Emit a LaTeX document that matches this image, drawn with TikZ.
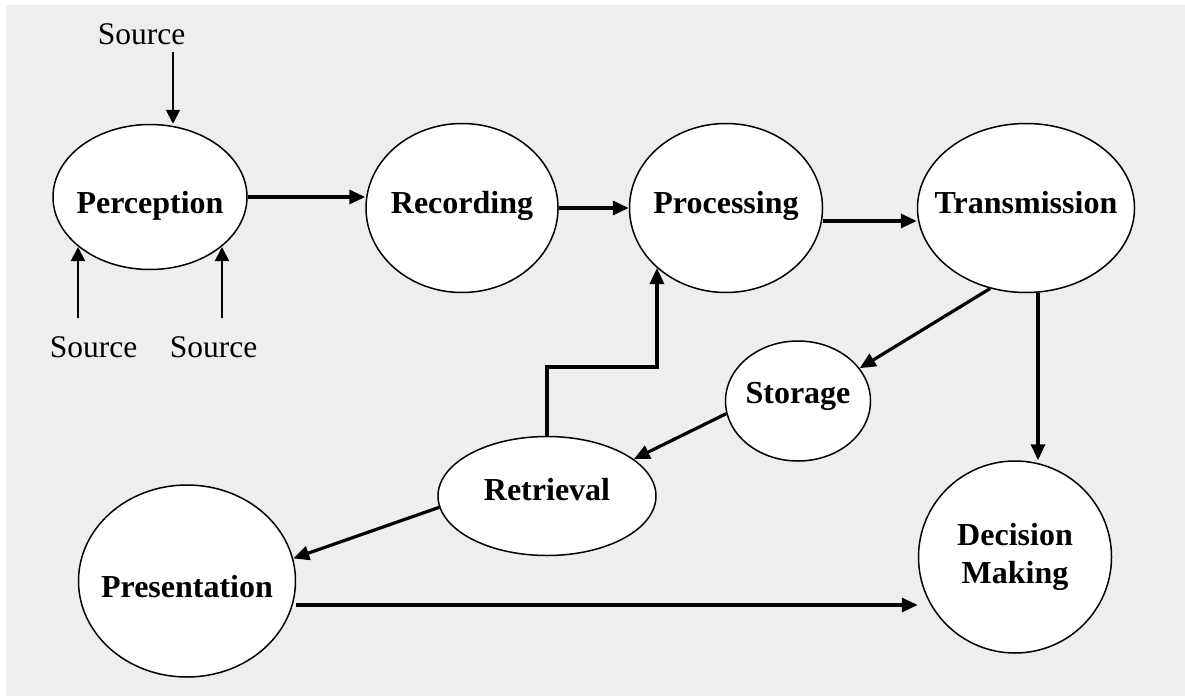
\documentclass[tikz,border=0pt]{standalone}
\usepackage{fontspec}
\setmainfont{Liberation Serif}
\usetikzlibrary{shapes.geometric,arrows.meta}
\newcommand{\mkz}[1]{\makebox[0pt]{#1}}
\definecolor{bggray}{HTML}{EEEEEE}
\begin{document}
\begin{tikzpicture}[x=1pt,y=-1pt,
  ell/.style={ellipse, draw, line width=1.5pt, fill=white, inner sep=0pt,
    font=\bfseries\fontsize{32}{38}\selectfont},
  srclabel/.style={font=\fontsize{31.5}{36}\selectfont, anchor=base, inner sep=0pt},
  thickarr/.style={line width=3.2pt, -{Triangle[length=16pt,width=14pt]}},
  thinarr/.style={line width=2pt, -{Triangle[length=14pt,width=14pt]}}
]
\fill[white] (0,0) rectangle (1185,696);
\fill[bggray] (6,5) rectangle (1185,696);
\useasboundingbox (0,0) rectangle (1185,696);

% nodes
\node[ell, minimum width=194pt, minimum height=145pt, text height=32pt, text depth=0pt] (perc) at (150,197) {\mkz{Perception}};
\node[ell, minimum width=192pt, minimum height=169pt, text height=10pt, text depth=0pt] (rec) at (462,208) {\mkz{Recording}};
\node[ell, minimum width=193pt, minimum height=169pt, text height=10pt, text depth=0pt] (proc) at (726,208) {\mkz{Processing}};
\node[ell, minimum width=217pt, minimum height=169pt, text height=10pt, text depth=0pt] (trans) at (1026,208) {\mkz{Transmission}};
\node[ell, minimum width=145pt, minimum height=120pt, text height=4pt, text depth=0pt] (stor) at (798,401) {\mkz{Storage}};
\node[ell, minimum width=218pt, minimum height=119pt, text height=8pt, text depth=0pt] (retr) at (547,496) {\mkz{Retrieval}};
\node[ell, minimum width=217pt, minimum height=192pt, text height=32pt, text depth=0pt] (pres) at (187,581) {\mkz{Presentation}};
\node[ell, minimum width=193pt, minimum height=192pt, align=center] (dec) at (1015,557) {Decision\\Making};

% source labels
\node[srclabel] (src1) at (141.5,44) {Source};
\node[srclabel] (src2) at (93.5,357) {Source};
\node[srclabel] (src3) at (213.5,357) {Source};
\coordinate (s1) at (173,52);
\coordinate (s2) at (78,318);
\coordinate (s3) at (222,318);

% source arrows
\draw[thinarr] (s1) -- (s1 |- perc.north);
\draw[thinarr] (s2) -- (s2 |- perc.215);
\draw[thinarr] (s3) -- (s3 |- perc.-35);

% main flow
\draw[thickarr] (perc.east) -- (perc.east -| rec.west);
\draw[thickarr] (rec.east) -- (proc.west);
\draw[thickarr] ([yshift=-13pt]proc.east) -- ([yshift=-13pt]trans.west);
\draw[thickarr] (trans.246) -- (stor.28);
\draw[thickarr] ([xshift=12pt]trans.south) -- ([xshift=12pt]trans.south |- dec.north);
\draw[thickarr] (stor.190) -- (retr.23);
\draw[thickarr] (retr.186) -- (pres.12.5);
\draw[thickarr] ([yshift=-24pt]pres.east) -- ([yshift=-24pt]pres.east -| dec.west);
\draw[thickarr] (retr.north) |- ([yshift=-99pt]proc.221) -- (proc.221);
\end{tikzpicture}
\end{document}
